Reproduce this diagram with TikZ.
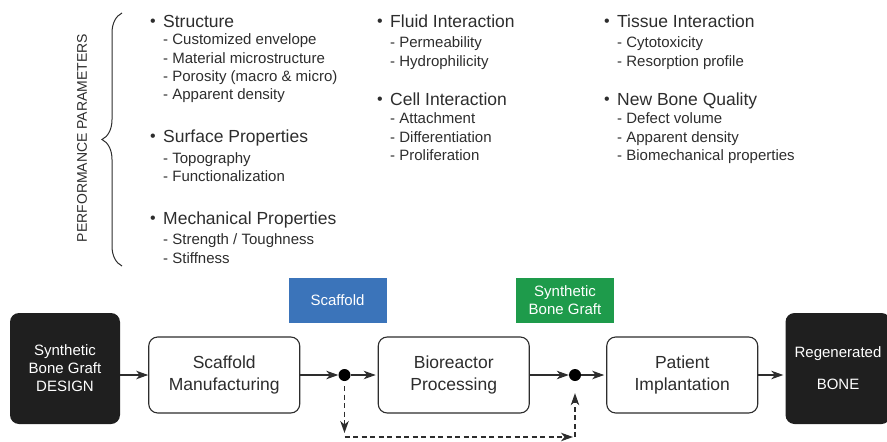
\documentclass[tikz,border=0pt]{standalone}
\usepackage{fontspec}
\setmainfont{Liberation Sans}
\usetikzlibrary{positioning,arrows.meta,decorations.pathreplacing}

\definecolor{ink}{RGB}{45,45,45}
\definecolor{scafblue}{RGB}{59,116,186}
\definecolor{graftgreen}{RGB}{30,155,75}

\newcommand{\itembul}{\makebox[13pt][l]{\raisebox{0.5pt}{\fontsize{16}{16}\selectfont\textbullet}}}

\begin{document}
\begin{tikzpicture}[
x=1pt, y=-1pt,
every node/.style={text=ink},
hd/.style={anchor=base west, inner sep=0, font=\fontsize{17.5}{21}\selectfont},
sub/.style={anchor=base west, inner sep=0, font=\fontsize{15}{18}\selectfont},
proc/.style={draw=ink, line width=1.1pt, rounded corners=9pt, fill=white,
  minimum width=151pt, minimum height=76pt, align=center,
  font=\fontsize{17.5}{22}\selectfont},
dark/.style={fill=black!88, rounded corners=9pt, minimum width=110pt,
  minimum height=111pt, align=center, text=white,
  font=\fontsize{15}{18}\selectfont},
tag/.style={minimum width=98pt, minimum height=45pt, align=center,
  text=white, font=\fontsize{15}{18}\selectfont},
dot/.style={circle, fill=black, inner sep=0, minimum size=12pt},
flow/.style={-{Stealth[length=12pt,width=8.5pt,inset=3.5pt]},
  line width=1.1pt, draw=ink},
back/.style={flow, dash pattern=on 5pt off 3.5pt}
]
\useasboundingbox (0,0) rectangle (887,442);

% performance parameters
\node[rotate=90, font=\fontsize{14}{14}\selectfont] (perf) at (82,138)
{PERFORMANCE PARAMETERS};
\draw[decorate, decoration={brace, amplitude=20pt}, line width=1pt, draw=ink]
(122,266) -- (122,13);

% column 1
\foreach \y/\t [count=\i] in {27/Structure, 142/Surface Properties,
  224/Mechanical Properties}
  \node[hd] (ha\i) at (150,\y) {\itembul\t};
\foreach \y/\t [count=\i] in {44/Customized envelope,
  63/Material microstructure, 81/{Porosity (macro \& micro)},
  99/Apparent density, 163/Topography, 181/Functionalization,
  244/{Strength / Toughness}, 263/Stiffness}
  \node[sub] (sa\i) at (163,\y) {- \t};

% column 2
\foreach \y/\t [count=\i] in {27/Fluid Interaction, 105/Cell Interaction}
  \node[hd] (hb\i) at (377,\y) {\itembul\t};
\foreach \y/\t [count=\i] in {47/Permeability, 66/Hydrophilicity,
  123/Attachment, 142/Differentiation, 160/Proliferation}
  \node[sub] (sb\i) at (390,\y) {- \t};

% column 3
\foreach \y/\t [count=\i] in {27/Tissue Interaction, 105/New Bone Quality}
  \node[hd] (hc\i) at (604,\y) {\itembul\t};
\foreach \y/\t [count=\i] in {47/Cytotoxicity, 66/Resorption profile,
  123/Defect volume, 142/Apparent density, 160/Biomechanical properties}
  \node[sub] (sc\i) at (617,\y) {- \t};

% process chain
\node[dark] (design) at (65,368.5)
{Synthetic\\Bone Graft\\DESIGN};

\node[proc, right=28pt of design, yshift=-6.5pt] (manuf)
{Scaffold\\Manufacturing};

\node[dot, right=38pt of manuf] (split1) {};

\node[proc, right=27pt of split1] (bio)
{Bioreactor\\Processing};

\node[dot, right=39pt of bio] (split2) {};

\node[proc, right=25pt of split2] (patient)
{Patient\\Implantation};

\node[dark, right=27pt of patient, yshift=6.5pt,
minimum width=105pt] (bone)
{Regenerated\\[14pt]BONE};

\node[tag, fill=scafblue] (scaf) at (337.5,300.5) {Scaffold};
\node[tag, fill=graftgreen] (graft) at (565,300.5) {Synthetic\\Bone Graft};

\coordinate (c1) at ([yshift=-62pt]split1.center);
\coordinate (c2) at ([yshift=-62pt]split2.center);

\draw[flow] (design.east |- manuf.west) -- (manuf.west);
\draw[flow] (manuf) -- (split1);
\draw[flow, shorten >=2pt] (split1) -- (bio);
\draw[flow] (bio) -- (split2);
\draw[flow, shorten >=2pt] (split2) -- (patient);
\draw[flow, shorten >=2pt] (patient) -- (bone.west |- patient.east);

\draw[back, shorten <=5pt, shorten >=4pt] (split1) -- (c1);
\draw[back, shorten >=2pt] (c1) -- (c2);
\draw[back, shorten >=12pt] (c2) -- (split2);

\end{tikzpicture}
\end{document}
